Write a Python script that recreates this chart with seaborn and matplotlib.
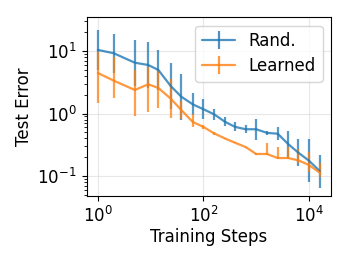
import numpy as np
import pandas as pd
import matplotlib
matplotlib.use("Agg")
import matplotlib.pyplot as plt
import seaborn as sns
from matplotlib.lines import Line2D
from matplotlib.ticker import NullLocator, LogLocator

steps = [1, 2, 5, 9, 14, 24, 38, 63, 100, 160, 254, 400, 635, 1000, 1600, 2560, 4030, 6300, 10000, 16000]

rand_mean = [10.4, 9.2, 6.5, 5.97, 4.97, 2.75, 1.86, 1.40, 1.17, 0.97, 0.74, 0.61, 0.56, 0.56, 0.49, 0.475, 0.325, 0.236, 0.176, 0.12]
rand_low = [5.0, 4.5, 2.8, 2.6, 2.4, 1.16, 0.80, 0.93, 0.81, 0.80, 0.62, 0.52, 0.48, 0.38, 0.45, 0.38, 0.20, 0.143, 0.08, 0.064]
rand_high = [21.7, 18.7, 15.0, 13.8, 10.4, 6.5, 4.3, 2.1, 1.69, 1.18, 0.89, 0.72, 0.65, 0.83, 0.53, 0.60, 0.52, 0.39, 0.39, 0.217]

learned_mean = [4.45, 3.35, 2.38, 2.93, 2.56, 1.73, 1.14, 0.73, 0.61, 0.48, 0.40, 0.34, 0.29, 0.225, 0.225, 0.194, 0.194, 0.178, 0.15, 0.113]
learned_low = [1.49, 1.79, 0.90, 1.07, 1.24, 0.84, 0.81, 0.61, 0.57, 0.46, 0.39, 0.335, 0.285, 0.22, 0.215, 0.19, 0.19, 0.16, 0.117, 0.095]
learned_high = [9.8, 8.0, 4.97, 5.6, 4.97, 3.5, 1.6, 1.0, 0.66, 0.50, 0.41, 0.345, 0.295, 0.23, 0.34, 0.29, 0.29, 0.267, 0.245, 0.16]

labels = ["Rand.", "Learned"]
colors = ["#1f77b4", "#ff7f0e"]

sns.set_style("ticks")
plt.rcParams["font.family"] = ["DejaVu Sans"]
for k in ["text.color", "axes.labelcolor", "xtick.color", "ytick.color", "axes.edgecolor"]:
    plt.rcParams[k] = "black"

fig = plt.figure(figsize=(3.49, 2.62), dpi=100)
ax = fig.add_axes([0.248, 0.253, 0.700, 0.681])

series = [(rand_mean, rand_low, rand_high), (learned_mean, learned_low, learned_high)]
for (m, lo, hi), c, lab in zip(series, colors, labels):
    m = np.array(m); lo = np.array(lo); hi = np.array(hi)
    ax.errorbar(steps, m, yerr=[m - lo, hi - m], fmt="none", ecolor=c,
                elinewidth=1.6, alpha=0.75, zorder=1.9)
    sns.lineplot(x=steps, y=m, color=c, lw=1.6, alpha=0.8, ax=ax, zorder=2)

ax.set_xscale("log")
ax.set_yscale("log")
ax.set_xlim(0.61, 26000)
ax.set_ylim(0.0484, 34.6)
ax.set_xticks([1, 100, 10000])
ax.xaxis.set_minor_locator(NullLocator())
ax.yaxis.set_minor_locator(LogLocator(base=10, subs=np.arange(2, 10)))
ax.grid(True, which="major", color="#dddddd", lw=0.8, alpha=0.7)
ax.set_axisbelow(True)
for s in ax.spines.values():
    s.set_color("black")
    s.set_linewidth(0.8)
ax.tick_params(axis="both", which="major", labelsize=12, length=3.5, width=0.8, color="black", labelcolor="black")
ax.tick_params(axis="y", which="minor", length=2, width=0.6, color="black")
ax.set_xlabel("Training Steps", fontsize=12, labelpad=2, color="black")
ax.set_ylabel("Test Error", fontsize=12, labelpad=3, color="black")

handles = [Line2D([], [], color=c, lw=1.6, marker="|", markersize=13, mew=1.6, alpha=0.8) for c in colors]
leg = ax.legend(handles, labels, loc="upper right", fontsize=12, frameon=True,
                handlelength=2.0, borderpad=0.4, labelspacing=0.4, handletextpad=0.8,
                borderaxespad=0.5)
for t in leg.get_texts():
    t.set_color("black")

fig.savefig("out.png", dpi=100)
